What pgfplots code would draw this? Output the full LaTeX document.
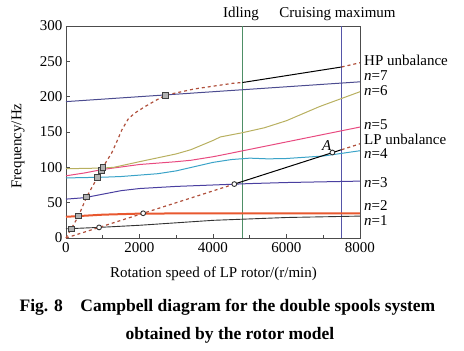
\documentclass[border=0pt]{standalone}
\usepackage{pgfplots}
\pgfplotsset{compat=1.18}
\usepackage{fontspec}
\setmainfont{Liberation Serif}
\definecolor{cA}{HTML}{333333}
\definecolor{cB}{HTML}{E8582F}
\definecolor{cC}{HTML}{4A3FA0}
\definecolor{cD}{HTML}{3BA3C8}
\definecolor{cE}{HTML}{E84A80}
\definecolor{cF}{HTML}{B8B060}
\definecolor{cG}{HTML}{4C4C90}
\definecolor{cDash}{HTML}{B0503C}
\definecolor{cIdle}{HTML}{4E8F66}
\definecolor{cCruise}{HTML}{5555A8}
\newcommand{\fs}{\fontsize{15}{18}\selectfont\rmfamily}
\begin{document}
\begin{tikzpicture}
\begin{axis}[
  scale only axis, width=294pt, height=212pt,
  xmin=0, xmax=8000, ymin=0, ymax=300,
  xtick={0,2000,4000,6000,8000}, minor xtick={1000,3000,5000,7000},
  xticklabels={0,2000,4000,6000,8000},
  ytick={0,50,...,300},
  yticklabels={0,50,100,150,200,250,300},
  tick pos=left, tick align=inside,
  major tick length=4pt, minor tick length=3pt,
  axis line style={draw=black!70, line width=0.9pt},
  every tick/.style={black!70, line width=0.8pt},
  tick label style={font=\fs},
  xticklabel style={yshift=-1pt},
  clip=false,
]
% vertical operating lines
\addplot[cIdle, line width=1pt] coordinates {(4800,0)(4800,300)};
\addplot[cCruise, line width=1pt] coordinates {(7500,0)(7500,300)};
% modes
\addplot[cA, line width=0.9pt] coordinates {(0,13)(900,15)(2000,18)(4000,25)(6000,29)(8000,31)};
\addplot[cB, line width=2pt] coordinates {(0,30)(1000,33)(2000,34.5)(4000,35)(8000,35)};
\addplot[cC, line width=1pt] coordinates {(0,55)(500,57)(1000,62)(1500,67)(2000,70)(3000,73)(4000,75)(5000,77)(6000,78.5)(8000,80.5)};
\addplot[cD, line width=1pt] coordinates {(0,85)(1000,86)(1500,87)(2000,89)(2500,91)(3000,95)(3500,101)(4000,107)(4500,111)(5000,113)(5500,112)(6000,112.5)(7000,116)(8000,123.5)};
\addplot[cE, line width=1pt] coordinates {(0,88)(500,92)(1000,97)(2000,104)(3000,108)(3400,110)(4000,115)(4200,117)(8000,157)};
\addplot[cF, line width=1pt] coordinates {(0,98)(1000,99)(1300,100)(2000,108)(3000,119)(3400,125)(4000,138)(4200,143)(4800,149)(5400,156)(6000,166)(6900,186)(8000,207)};
\addplot[cG, line width=1pt] coordinates {(0,193)(8000,221)};
% HP unbalance
\addplot[cDash, line width=1.2pt, dash pattern=on 3pt off 3pt] coordinates {(0,0)(140,13)(340,31)(560,58)(860,86)(970,96)(1000,100)(1240,120)(1380,136)(1520,153)(1700,169)(1880,177)(2150,186)(2420,194)(2700,202)(3500,211)(4550,219)(4800,220)};
\addplot[black, line width=1pt] coordinates {(4800,220)(7500,242)};
\addplot[cDash, line width=1.2pt, dash pattern=on 3pt off 3pt] coordinates {(7500,242)(8000,248)};
% LP unbalance
\addplot[cDash, line width=1.2pt, dash pattern=on 3pt off 3pt] coordinates {(0,0)(4580,76.3)};
\addplot[black, line width=1pt] coordinates {(4580,76.3)(7500,125)};
\addplot[cDash, line width=1.2pt, dash pattern=on 3pt off 3pt] coordinates {(7500,125)(8000,133.3)};
% markers
\addplot[only marks, mark=square*, mark size=2.8pt, mark options={fill=black!30, draw=black!75, line width=0.8pt}] coordinates {(140,13)(340,31)(560,58)(860,86)(970,96)(1000,100)(2700,202)};
\addplot[only marks, mark=*, mark size=2.4pt, mark options={fill=white, draw=black!80, line width=0.9pt}] coordinates {(900,15)(2100,35)(4580,76.3)(7250,121)};
% labels
\node[font=\fs\itshape, anchor=south east, inner sep=1pt] at (axis cs:7250,122) {A};
\begin{scope}[every node/.style={font=\fs, anchor=west, inner sep=0pt, xshift=4pt}]
\node at (axis cs:8000,251) {HP unbalance};
\node at (axis cs:8000,230) {\textit{n}=7};
\node at (axis cs:8000,209) {\textit{n}=6};
\node at (axis cs:8000,161) {\textit{n}=5};
\node at (axis cs:8000,140) {LP unbalance};
\node at (axis cs:8000,119) {\textit{n}=4};
\node at (axis cs:8000,78) {\textit{n}=3};
\node at (axis cs:8000,45.5) {\textit{n}=2};
\node at (axis cs:8000,25) {\textit{n}=1};
\end{scope}
\end{axis}
\node[font=\fs, anchor=base] at (175pt,220.7pt) {Idling};
\node[font=\fs, anchor=base] at (271.5pt,220.7pt) {Cruising maximum};
\node[font=\fs, rotate=90, anchor=center] at (-48pt,92pt) {Frequency/Hz};
\node[font=\fs, anchor=base] at (147.5pt,-39.7pt) {Rotation speed of LP rotor/(r/min)};
\node[font=\fontsize{17.5}{21}\selectfont\bfseries, anchor=base] at (161.5pt,-73.7pt) {Fig. 8\hspace{1em}Campbell diagram for the double spools system};
\node[font=\fontsize{17.5}{21}\selectfont\bfseries, anchor=base] at (164pt,-102pt) {obtained by the rotor model};
\pgfresetboundingbox
\path[use as bounding box] (-66pt,-113pt) rectangle (398pt,238pt);
\end{tikzpicture}
\end{document}
